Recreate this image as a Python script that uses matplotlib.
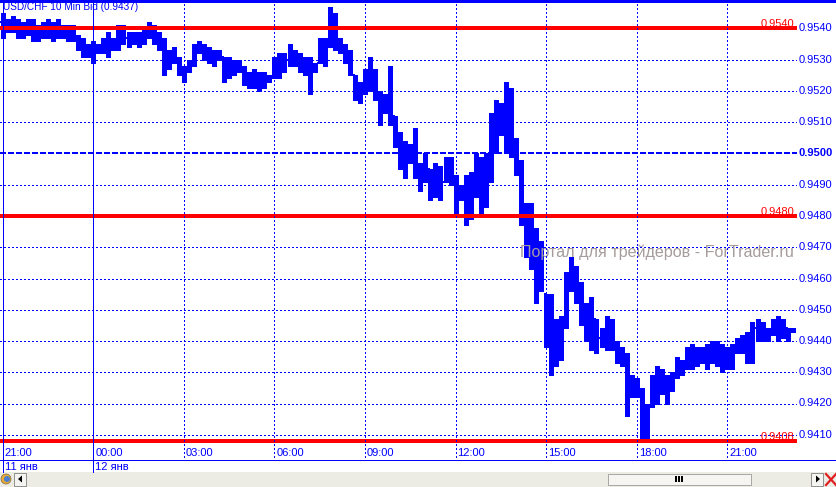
import numpy as np
import matplotlib
matplotlib.use("Agg")
import matplotlib.pyplot as plt
import matplotlib.transforms as mtransforms
from matplotlib.patches import Rectangle, Polygon, Circle

plt.rcParams['font.family'] = ['Liberation Sans', 'DejaVu Sans']
plt.rcParams['lines.scale_dashes'] = False

# USD/CHF 10 min bid bars, 21:00 11 Jan .. 23:10 12 Jan, prices in pips
bar_open = [9542, 9540, 9541, 9540, 9539, 9540, 9539, 9538, 9539, 9541,
            9539, 9540, 9539, 9538, 9539, 9537, 9534, 9533, 9532, 9533,
            9534, 9536, 9534, 9536, 9538, 9537, 9536, 9537, 9536, 9538,
            9539, 9536, 9535, 9529, 9531, 9530, 9527, 9526, 9529, 9533,
            9534, 9532, 9531, 9531, 9531, 9527, 9528, 9527, 9527, 9524,
            9523, 9524, 9522, 9524, 9524, 9528, 9529, 9530, 9531, 9530,
            9528, 9527, 9526, 9529, 9535, 9535, 9540, 9535, 9534, 9531,
            9525, 9520, 9521, 9524, 9523, 9519, 9515, 9516, 9512, 9504,
            9500, 9498, 9500, 9495, 9492, 9495, 9489, 9493, 9491, 9495,
            9492, 9486, 9487, 9484, 9490, 9493, 9484, 9495, 9508, 9510,
            9512, 9518, 9503, 9496, 9480, 9480, 9470, 9462, 9455, 9445,
            9440, 9437, 9446, 9459, 9462, 9456, 9450, 9444, 9447, 9441,
            9442, 9445, 9439, 9436, 9434, 9424, 9425, 9423, 9410, 9419,
            9426, 9428, 9425, 9427, 9429, 9433, 9431, 9436, 9433, 9435,
            9434, 9436, 9434, 9436, 9433, 9436, 9437, 9439, 9438, 9440,
            9444, 9442, 9443, 9442, 9445, 9443, 9444, 9443]
bar_high = [9545, 9543, 9544, 9543, 9542, 9543, 9543, 9541, 9542, 9543,
            9542, 9543, 9541, 9541, 9541, 9538, 9537, 9535, 9536, 9535,
            9537, 9539, 9537, 9541, 9541, 9539, 9539, 9539, 9540, 9542,
            9541, 9539, 9537, 9533, 9534, 9531, 9528, 9530, 9535, 9536,
            9535, 9534, 9533, 9533, 9531, 9531, 9530, 9530, 9528, 9526,
            9527, 9526, 9526, 9525, 9531, 9532, 9532, 9535, 9533, 9532,
            9531, 9531, 9529, 9537, 9537, 9547, 9545, 9537, 9535, 9533,
            9525, 9523, 9527, 9531, 9527, 9520, 9519, 9528, 9512, 9507,
            9504, 9503, 9508, 9497, 9500, 9495, 9497, 9496, 9499, 9499,
            9493, 9490, 9493, 9494, 9500, 9499, 9500, 9513, 9517, 9516,
            9523, 9521, 9505, 9498, 9484, 9484, 9476, 9472, 9455, 9455,
            9447, 9448, 9462, 9467, 9464, 9459, 9452, 9454, 9447, 9444,
            9448, 9447, 9440, 9438, 9436, 9429, 9428, 9425, 9420, 9429,
            9432, 9431, 9429, 9430, 9435, 9434, 9438, 9439, 9438, 9438,
            9439, 9440, 9440, 9439, 9438, 9439, 9441, 9442, 9443, 9446,
            9447, 9446, 9444, 9447, 9448, 9447, 9444, 9444]
bar_low = [9537, 9539, 9539, 9537, 9537, 9538, 9536, 9536, 9537, 9537,
           9536, 9537, 9537, 9536, 9536, 9533, 9531, 9531, 9529, 9532,
           9532, 9531, 9533, 9533, 9535, 9534, 9535, 9534, 9535, 9537,
           9535, 9533, 9525, 9527, 9529, 9525, 9523, 9526, 9528, 9532,
           9530, 9529, 9528, 9530, 9523, 9524, 9525, 9526, 9522, 9521,
           9521, 9520, 9521, 9523, 9524, 9524, 9526, 9528, 9528, 9526,
           9525, 9519, 9526, 9529, 9528, 9534, 9533, 9532, 9529, 9525,
           9517, 9516, 9519, 9520, 9517, 9509, 9513, 9509, 9502, 9495,
           9492, 9497, 9492, 9488, 9491, 9485, 9486, 9485, 9491, 9490,
           9481, 9485, 9477, 9479, 9486, 9480, 9483, 9491, 9500, 9506,
           9500, 9499, 9493, 9477, 9467, 9463, 9452, 9456, 9438, 9429,
           9432, 9434, 9444, 9456, 9452, 9445, 9440, 9437, 9436, 9438,
           9437, 9437, 9433, 9432, 9416, 9422, 9422, 9408, 9408, 9419,
           9420, 9423, 9420, 9424, 9428, 9429, 9431, 9431, 9432, 9433,
           9431, 9433, 9432, 9430, 9431, 9431, 9436, 9436, 9433, 9433,
           9440, 9440, 9440, 9442, 9440, 9441, 9440, 9443]
bar_close = [9540, 9541, 9540, 9539, 9540, 9539, 9538, 9539, 9541, 9539,
             9540, 9539, 9538, 9539, 9537, 9534, 9533, 9532, 9533, 9534,
             9536, 9534, 9536, 9538, 9537, 9536, 9537, 9536, 9538, 9539,
             9536, 9535, 9529, 9531, 9530, 9527, 9526, 9529, 9533, 9534,
             9532, 9531, 9531, 9531, 9527, 9528, 9527, 9527, 9524, 9523,
             9524, 9522, 9524, 9524, 9528, 9529, 9530, 9531, 9530, 9528,
             9527, 9526, 9528, 9535, 9535, 9540, 9535, 9534, 9531, 9526,
             9520, 9521, 9524, 9523, 9519, 9515, 9516, 9514, 9504, 9500,
             9498, 9500, 9495, 9492, 9495, 9489, 9493, 9490, 9495, 9492,
             9486, 9487, 9484, 9490, 9493, 9484, 9495, 9508, 9510, 9512,
             9518, 9503, 9496, 9480, 9480, 9470, 9462, 9458, 9445, 9440,
             9437, 9446, 9459, 9462, 9456, 9450, 9444, 9448, 9441, 9442,
             9445, 9439, 9436, 9434, 9424, 9425, 9423, 9410, 9418, 9426,
             9428, 9425, 9427, 9429, 9433, 9431, 9436, 9433, 9435, 9434,
             9436, 9434, 9436, 9433, 9436, 9437, 9439, 9438, 9440, 9444,
             9442, 9443, 9441, 9445, 9443, 9444, 9442, 9443]

time_labels = ['21:00', '00:00', '03:00', '06:00', '09:00', '12:00', '15:00', '18:00', '21:00']
time_bars = [0, 18, 36, 54, 72, 90, 108, 126, 144]
day_labels = ['11 янв', '12 янв']
day_bars = [0, 18]
price_levels = [0.9410, 0.9420, 0.9430, 0.9440, 0.9450, 0.9460, 0.9470,
                0.9480, 0.9490, 0.9500, 0.9510, 0.9520, 0.9530, 0.9540]
red_levels = [0.9540, 0.9480, 0.9408]
title = 'USD/CHF 10 Min Bid (0.9437)'

BLUE = '#0000FF'
RED = '#FF0000'
FS = 8

fig = plt.figure(figsize=(8.37, 4.87), dpi=100, facecolor='white')
ax = fig.add_axes([0, 44 / 487, 797 / 837, 443 / 487], zorder=1)
chrome = fig.add_axes([0, 0, 1, 1], zorder=2)
chrome.set_xlim(0, 837)
chrome.set_ylim(487, 0)
chrome.axis('off')
chrome.patch.set_alpha(0)

step = 5.032  # pixels per bar
ax.set_xlim(-2.7 / step, (797 - 2.7) / step)
ax.set_ylim(0.940736, 0.954912)
for s in ax.spines.values():
    s.set_visible(False)
ax.set_xticks([])
ax.set_yticks([])

x = np.arange(len(bar_high))
o = np.array(bar_open) / 1e4
h = np.array(bar_high) / 1e4
l = np.array(bar_low) / 1e4
c = np.array(bar_close) / 1e4

dot = (0, (0.75, 1.65))

# horizontal grid
for p in price_levels:
    if abs(p - 0.9500) < 1e-9:
        ax.axhline(p, color=BLUE, lw=1.45, ls=(0, (3.6, 1.8)), zorder=1, antialiased=False)
    else:
        ax.axhline(p, color=BLUE, lw=0.7, ls=dot, zorder=1, antialiased=False)

# vertical grid, running down into the time axis
blend = mtransforms.blended_transform_factory(ax.transData, chrome.transData)
tt = mtransforms.offset_copy(blend, fig=fig, x=2, y=0, units='dots')
for b, lab in zip(time_bars, time_labels):
    if b in day_bars:
        chrome.vlines(b, 0, 472, color=BLUE, lw=0.7, transform=blend, antialiased=False)
    else:
        chrome.vlines(b, 0, 460, color=BLUE, lw=0.7, ls=dot, transform=blend, antialiased=False)
    chrome.text(b, 453.5, lab, color=BLUE, fontsize=FS, ha='left', va='center', transform=tt)
for b, lab in zip(day_bars, day_labels):
    chrome.text(b, 466.5, lab, color=BLUE, fontsize=FS, ha='left', va='center', transform=tt)

# OHLC bars
ax.vlines(x, l, h, color=BLUE, lw=2.3, zorder=3, antialiased=False)
ax.hlines(o, x - 0.45, x, color=BLUE, lw=1.3, zorder=3, antialiased=False)
ax.hlines(c, x, x + 0.45, color=BLUE, lw=1.3, zorder=3, antialiased=False)

# watermark
ax.text(0.653, 0.431, 'Портал для трейдеров - ForTrader.ru', transform=ax.transAxes,
        fontsize=11.6, color='#A69C9C', ha='left', va='center', zorder=3.5)

# red levels
yoff = mtransforms.blended_transform_factory(ax.transAxes, ax.transData)
tr_red = mtransforms.offset_copy(yoff, fig=fig, x=-3, y=1, units='dots')
for p in red_levels:
    ax.axhline(p, color=RED, lw=1.6, zorder=4, antialiased=False)
    ax.text(1, p, f'{p:.4f}', color=RED, fontsize=FS, ha='right', va='baseline',
            transform=tr_red, zorder=5)

# right price scale
ax.axvline(ax.get_xlim()[1] - 0.05, color=BLUE, lw=0.7, ls=dot, antialiased=False)
tr_lab = mtransforms.offset_copy(yoff, fig=fig, x=2, y=0, units='dots')
for p in price_levels:
    ax.text(1, p, f'{p:.4f}', color=BLUE, fontsize=FS, ha='left', va='center',
            transform=tr_lab, clip_on=False,
            fontweight='bold' if abs(p - 0.95) < 1e-9 else 'normal')

chrome.text(3, 2.5, title, color=BLUE, fontsize=7.2, ha='left', va='top', zorder=6)

# frame lines
chrome.hlines(1, 0, 837, color=BLUE, lw=1.5, antialiased=False)
chrome.hlines(460, 0, 837, color=BLUE, lw=0.7, antialiased=False)

# scroll bar
chrome.add_patch(Rectangle((0, 471.5), 837, 16, fc='#ECEBE4', ec='none'))
chrome.add_patch(Circle((6, 479), 5, fc='#E9A93A', ec='#7A6A40', lw=0.5))
chrome.add_patch(Circle((7, 479), 3, fc='#4A7FD0', ec='none'))
chrome.add_patch(Rectangle((14.5, 472.5), 12, 13, fc='#F4F4F0', ec='#808080', lw=0.6))
chrome.add_patch(Polygon([[18, 479], [22, 475.5], [22, 482.5]], fc='black'))
chrome.add_patch(Rectangle((608.5, 473.5), 143, 11, fc='#F6F5F1', ec='#9A9A9A', lw=0.6))
chrome.vlines([676.5, 679.5, 682.5], 476, 482, color='black', lw=1.2, antialiased=False)
chrome.add_patch(Rectangle((811.5, 472.5), 12, 13, fc='#F4F4F0', ec='#808080', lw=0.6))
chrome.add_patch(Polygon([[820, 479], [816, 475.5], [816, 482.5]], fc='black'))
chrome.plot([826, 836], [474, 485], color='#E02020', lw=1.6)
chrome.plot([826, 836], [485, 474], color='#E02020', lw=1.6)

fig.savefig('out.png', dpi=100, facecolor='white')
